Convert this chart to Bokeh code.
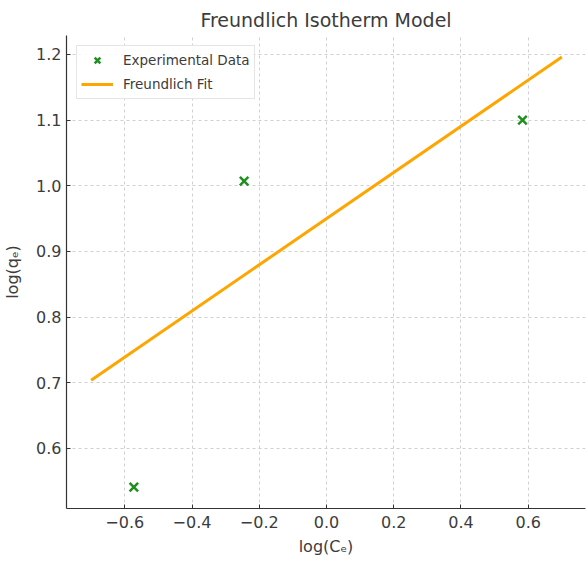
from bokeh.plotting import figure
from bokeh.models import Range1d, FixedTicker, CustomJSTickFormatter, Legend, LegendItem
from bokeh.embed import file_html
from bokeh.resources import INLINE

# ---- data ----
log_ce = [-0.573, -0.245, 0.583]
log_qe = [0.541, 1.007, 1.100]
fit_x = [-0.70, 0.70]
fit_y = [0.704, 1.196]
x_ticks = [-0.6, -0.4, -0.2, 0.0, 0.2, 0.4, 0.6]
y_ticks = [0.6, 0.7, 0.8, 0.9, 1.0, 1.1, 1.2]

TEXT = "#3c3c3c"
FONT = "DejaVu Sans"

p = figure(width=588, height=562, output_backend="svg", toolbar_location=None,
           x_range=Range1d(-0.7733, 0.7704), y_range=Range1d(0.5086, 1.2289),
           min_border_left=64, min_border_right=3, min_border_top=35, min_border_bottom=54)

p.title.text = "Freundlich Isotherm Model"
p.title.text_font = FONT
p.title.text_font_size = "19px"
p.title.text_font_style = "normal"
p.title.text_color = TEXT
p.title.align = "center"
p.title.standoff = 9

p.outline_line_color = None
p.background_fill_color = "white"
p.border_fill_color = "white"

fmt = CustomJSTickFormatter(code="""
const s = Math.abs(tick).toFixed(1);
return tick < -1e-9 ? "\\u2212" + s : s;
""")

settings = ((p.xaxis[0], x_ticks, "log(C\u2091)", 7, 6),
            (p.yaxis[0], y_ticks, "log(q\u2091)", 5, 11))
for ax, ticks, lab, lstand, astand in settings:
    ax.ticker = FixedTicker(ticks=ticks)
    ax.formatter = fmt
    ax.axis_label = lab
    ax.axis_label_text_font = FONT
    ax.axis_label_text_font_size = "16px"
    ax.axis_label_text_font_style = "normal"
    ax.axis_label_text_color = TEXT
    ax.axis_label_standoff = astand
    ax.major_label_text_font = FONT
    ax.major_label_text_font_size = "16px"
    ax.major_label_text_color = TEXT
    ax.major_label_standoff = lstand
    ax.axis_line_color = "#333333"
    ax.axis_line_width = 1.2
    ax.major_tick_line_color = "#333333"
    ax.major_tick_in = 4
    ax.major_tick_out = 0
    ax.minor_tick_line_color = None

for g in (p.xgrid[0], p.ygrid[0]):
    g.grid_line_color = "#d0d0d0"
    g.grid_line_dash = "3 3"
    g.grid_line_width = 1

r_pts = p.scatter(log_ce, log_qe, marker="x", size=12, line_width=2.5, color="#1f8f1f")
r_fit = p.line(fit_x, fit_y, line_width=3, color="#ffa500")

legend = Legend(items=[LegendItem(label="Experimental Data", renderers=[r_pts]),
                       LegendItem(label="Freundlich Fit", renderers=[r_fit])],
                location="top_left")
legend.label_text_font = FONT
legend.label_text_font_size = "13.5px"
legend.label_text_color = TEXT
legend.glyph_width = 32
legend.glyph_height = 20
legend.label_height = 20
legend.label_standoff = 10
legend.spacing = 4
legend.padding = 4
legend.margin = 10
legend.border_line_color = "#cccccc"
legend.border_line_width = 1
legend.background_fill_alpha = 0.85
p.add_layout(legend)

open("out.html", "w").write(file_html(p, INLINE))
